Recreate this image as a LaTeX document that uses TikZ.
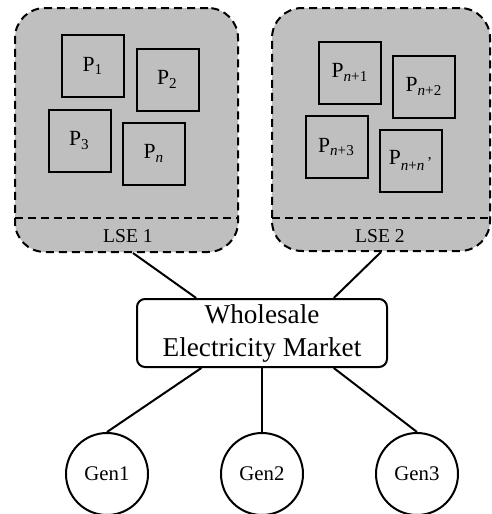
\documentclass[tikz,border=0pt]{standalone}
\usepackage{fontspec}
\setmainfont{Liberation Serif}

\begin{document}
\begin{tikzpicture}[x=0.5pt, y=-0.5pt,
    lse/.style={draw, dash pattern=on 4pt off 2.5pt, line width=1pt, fill=black!25, rounded corners=15pt},
    pbox/.style={draw, line width=1pt, minimum size=31pt, inner sep=0pt, font=\fontsize{10.8}{12}\selectfont},
    gen/.style={circle, draw, line width=1pt, minimum size=41pt, inner sep=0pt, font=\fontsize{10.4}{12}\selectfont},
    link/.style={line width=1pt}]
    \useasboundingbox (0,0) rectangle (492,514);

    % load serving entities
    \node[lse, minimum width=111.5pt, minimum height=122pt] (lse1) at (126.5,130) {};
    \node[lse, minimum width=109pt, minimum height=121.5pt] (lse2) at (381,129.5) {};
    \draw[line width=1pt, dash pattern=on 4pt off 2.5pt] (15,218) -- (238,218);
    \draw[line width=1pt, dash pattern=on 4pt off 2.5pt] (272,218) -- (490,218);
    \node[font=\fontsize{9.8}{11}\selectfont] (l1) at (128,236) {LSE 1};
    \node[font=\fontsize{9.8}{11}\selectfont] (l2) at (380,236) {LSE 2};

    % prosumers
    \node[pbox] (p1) at (93,66) {P\textsubscript{1}};
    \node[pbox] (p2) at (167.5,79.5) {P\textsubscript{2}};
    \node[pbox] (p3) at (79.5,140.5) {P\textsubscript{3}};
    \node[pbox] (pn) at (154,153.5) {P\textsubscript{\textit{n}}};
    \node[pbox] (pn1) at (350,72.5) {P\textsubscript{\textit{n}+1}};
    \node[pbox] (pn2) at (424,86.5) {P\textsubscript{\textit{n}+2}};
    \node[pbox] (pn3) at (336.5,147) {P\textsubscript{\textit{n}+3}};
    \node[pbox] (pnn) at (411,160.5) {P\textsubscript{\textit{n}+\textit{n}\,\raisebox{0.5ex}{'}}};

    % market and generators
    \node[draw, line width=1pt, rounded corners=4pt, minimum width=125pt, minimum height=34pt,
          inner sep=0pt, align=center, font=\fontsize{13.6}{16.5}\selectfont] (wem) at (262,333)
          {Wholesale\\Electricity Market};
    \node[gen] (g1) at (107,474) {Gen1};
    \node[gen] (g2) at (262,474) {Gen2};
    \node[gen] (g3) at (417,474) {Gen3};

    \draw[link] (lse1.273) -- (wem.152);
    \draw[link] (lse2.south) -- (wem.26);
    \draw[link] (wem.210) -- (g1.north);
    \draw[link] (wem.south) -- (g2.north);
    \draw[link] (wem.334) -- (g3.north);
\end{tikzpicture}
\end{document}
